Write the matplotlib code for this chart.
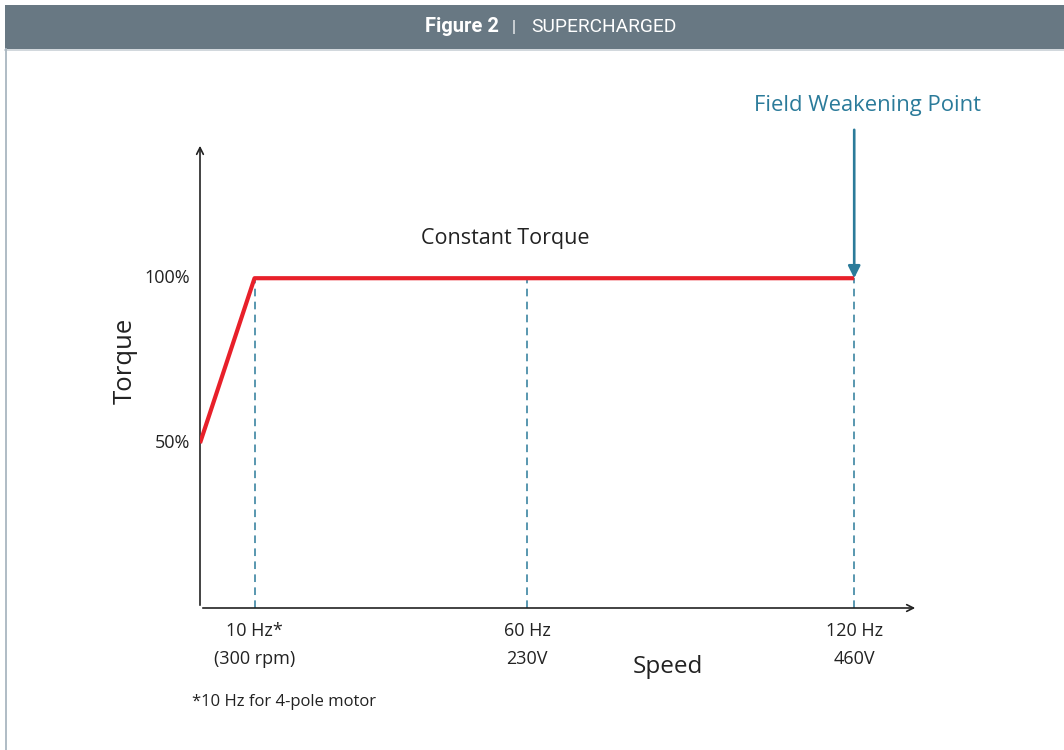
import matplotlib.pyplot as plt
from matplotlib.patches import Rectangle
from matplotlib.lines import Line2D

# data
speed_hz = [0, 10, 60, 120]
torque_pct = [50, 100, 100, 100]
marker_hz = [10, 60, 120]
tick_labels = ["10 Hz*\n(300 rpm)", "60 Hz\n230V", "120 Hz\n460V"]
ytick_vals = [50, 100]
ytick_labels = ["50%", "100%"]

plt.rcParams['font.family'] = ['Open Sans', 'DejaVu Sans']
W, H = 1064, 750
fig = plt.figure(figsize=(W / 100, H / 100), dpi=100)
red = "#e8202a"
teal = "#2b7b9a"
ink = "#222222"

# header band and frame
fig.patches.append(Rectangle((5 / W, 1 - 49 / H), 1, 44 / H, transform=fig.transFigure,
                             facecolor="#687883", edgecolor="none"))
fig.lines.append(Line2D([5 / W, 1], [1 - 49.5 / H] * 2, transform=fig.transFigure,
                        color="#c9d1d7", lw=1.2))
fig.lines.append(Line2D([5.5 / W] * 2, [0, 1 - 49 / H], transform=fig.transFigure,
                        color="#a9b6c0", lw=1.3))
hy = 1 - 27 / H
fig.text(499 / W, hy, "Figure 2", color="white", fontsize=14.5, fontweight="bold",
         family="Roboto", ha="right", va="center")
fig.text(514 / W, hy, "|", color="white", fontsize=12, family="Roboto", ha="center", va="center")
fig.text(531 / W, hy, "SUPERCHARGED", color="white", fontsize=13.8, family="Roboto",
         ha="left", va="center")

# axes
x0, y0, x1, y1 = 200, 608, 918, 143
ax = fig.add_axes([x0 / W, 1 - y0 / H, (x1 - x0) / W, (y0 - y1) / H])
ax.set_xlim(0, 131.7)
ax.set_ylim(0, 141)
for s in ax.spines.values():
    s.set_visible(False)
ax.set_xticks([])
ax.set_yticks([])
ax.patch.set_alpha(0)

# axis arrows
ax.annotate("", xy=(1, 0), xytext=(0, 0), xycoords="axes fraction",
            arrowprops=dict(arrowstyle="->", color=ink, lw=1.2, mutation_scale=12))
ax.annotate("", xy=(0, 1), xytext=(0, 0), xycoords="axes fraction",
            arrowprops=dict(arrowstyle="->", color=ink, lw=1.2, mutation_scale=12))

for hz in marker_hz:
    ax.plot([hz, hz], [0, 100], color=teal, lw=1.1, ls=(0, (5, 3.5)), zorder=2)
ax.plot(speed_hz, torque_pct, color=red, lw=3.0, solid_capstyle="butt", zorder=3)

for v, lab in zip(ytick_vals, ytick_labels):
    ax.text(-1.8, v, lab, ha="right", va="center", fontsize=13, color=ink)
for hz, lab in zip(marker_hz, tick_labels):
    ax.text(hz, -4.3, lab, ha="center", va="top", fontsize=13, color=ink, linespacing=1.7)

ax.text(56, 112, "Constant Torque", ha="center", va="center", fontsize=15.5, color=ink)
ax.annotate("", xy=(120, 100), xytext=(120, 145),
            annotation_clip=False,
            arrowprops=dict(arrowstyle="-|>", color=teal, lw=1.9, mutation_scale=18,
                            shrinkA=0, shrinkB=0))
ax.text(122.5, 152.5, "Field Weakening Point", ha="center", va="center",
        fontsize=15.8, color=teal, clip_on=False)
fig.text(125 / W, 1 - 361 / H, "Torque", rotation=90, ha="center", va="center",
         fontsize=18.5, color=ink)
fig.text(668 / W, 1 - 667 / H, "Speed", ha="center", va="center", fontsize=17.5, color=ink)
fig.text(192 / W, 1 - 702 / H, "*10 Hz for 4-pole motor", ha="left", va="center",
         fontsize=12, color=ink)

fig.savefig("out.png", dpi=100)
